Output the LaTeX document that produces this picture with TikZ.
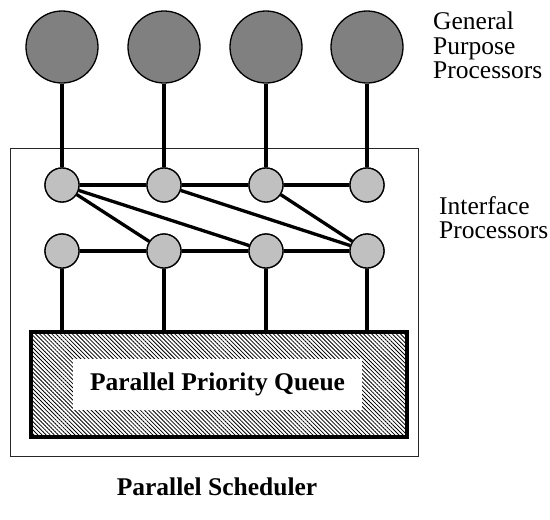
\documentclass[tikz,border=0pt]{standalone}
\usepackage{fontspec}
\setmainfont{Liberation Serif}
\usetikzlibrary{patterns.meta}
\definecolor{gppfill}{HTML}{808080}
\definecolor{ifpfill}{HTML}{C0C0C0}
\begin{document}
\begin{tikzpicture}[x=1pt,y=-1pt,
  gpp/.style={circle,draw=black,line width=1.3pt,fill=gppfill,minimum size=72pt,inner sep=0pt},
  ifp/.style={circle,draw=black,line width=1.3pt,fill=ifpfill,minimum size=34pt,inner sep=0pt},
  link/.style={line width=3.3pt},
  framebox/.style={draw=black!85,line width=1pt,minimum width=408pt,minimum height=308pt,inner sep=0pt},
  queuebox/.style={draw=black,line width=3.5pt,minimum width=376pt,minimum height=105pt,inner sep=0pt,
    pattern={Lines[angle=-45,distance=2.9pt,line width=0.8pt]},pattern color=black},
  qlabel/.style={fill=white,minimum width=289pt,minimum height=51pt,inner sep=0pt,
    font=\fontsize{25.5}{28}\selectfont\bfseries},
  lbl/.style={font=\fontsize{25.5}{24.5}\selectfont,align=left,inner sep=0pt,anchor=north west},
  title/.style={font=\fontsize{25.5}{28}\selectfont\bfseries,inner sep=0pt}]
\useasboundingbox (0,0) rectangle (550,520);

% enclosing frame of the scheduler
\node[framebox] (frame) at (214,302) {};

% priority queue
\node[queuebox] (queue) at (219,384.5) {};
\node[qlabel] (qtext) at (217.5,384.5) {Parallel Priority Queue};

% processors: general purpose (top), interface processors (two rows)
\foreach \i/\x in {1/62,2/164,3/266,4/367}{
  \node[gpp] (g\i) at (\x,47) {};
  \node[ifp] (t\i) at (\x,185) {};
  \node[ifp] (b\i) at (\x,251) {};
}

% connections
\foreach \i in {1,2,3,4}{
  \draw[link] (g\i) -- (t\i);
  \draw[link] (b\i) -- (b\i |- queue.north);
}
\draw[link] (t1) -- (t2);
\draw[link] (t2) -- (t3);
\draw[link] (t3) -- (t4);
\draw[link] (b1) -- (b2);
\draw[link] (b2) -- (b3);
\draw[link] (b3) -- (b4);
\draw[link] (t1) -- (b2);
\draw[link] (t1) -- (b3);
\draw[link] (t2) -- (b4);
\draw[link] (t3) -- (b4);

% redraw the small circles above the link ends
\foreach \i in {1,2,3,4}{
  \node[ifp] at (t\i) {};
  \node[ifp] at (b\i) {};
}

% labels
\node[lbl] (gpplabel) at (433,12) {General\\Purpose\\Processors};
\node[lbl] (ifplabel) at (439,196) {Interface\\Processors};
\node[title] (sched) at (217,487) {Parallel Scheduler};
\end{tikzpicture}
\end{document}
